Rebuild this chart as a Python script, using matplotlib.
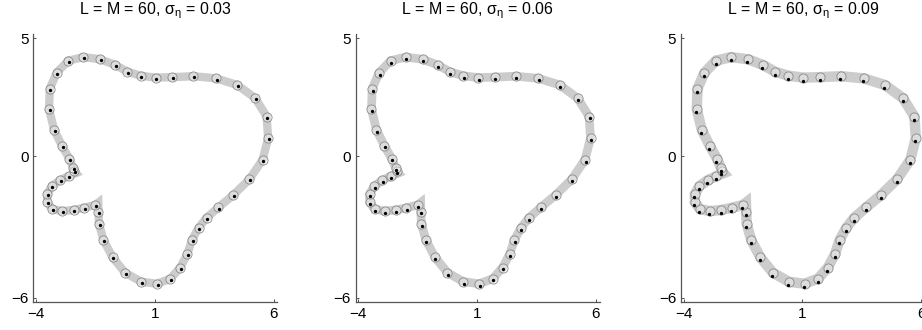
import matplotlib.pyplot as plt
import numpy as np

plt.rcParams["font.family"] = ["Liberation Sans", "DejaVu Sans"]
plt.rcParams["mathtext.fontset"] = "custom"
plt.rcParams["mathtext.rm"] = "Liberation Sans"
plt.rcParams["mathtext.it"] = "Liberation Sans"

# estimated contour points (circle centres), clockwise from the top left
PT_X = [-2.64, -2.01, -1.30, -0.67, -0.15, 0.41, 1.04, 1.74, 2.62, 3.57,
        4.47, 5.23, 5.71, 5.77, 5.54, 4.98, 4.31, 3.68, 3.18, 2.84,
        2.56, 2.37, 2.07, 1.66, 1.09, 0.42, -0.25, -0.78, -1.16, -1.35,
        -1.37, -1.51, -1.98, -2.42, -2.90, -3.32, -3.53, -3.53, -3.34, -2.99,
        -2.63, -2.39, -2.43, -2.60, -2.91, -3.24, -3.45, -3.42, -3.13]
PT_Y = [4.05, 4.20, 4.11, 3.87, 3.58, 3.41, 3.33, 3.35, 3.39, 3.30,
        3.02, 2.46, 1.68, 0.77, -0.15, -0.98, -1.64, -2.17, -2.61, -3.04,
        -3.56, -4.15, -4.72, -5.19, -5.41, -5.32, -4.94, -4.28, -3.55, -2.86,
        -2.35, -2.07, -2.19, -2.28, -2.33, -2.24, -1.95, -1.61, -1.27, -1.02,
        -0.85, -0.64, -0.50, -0.10, 0.45, 1.12, 1.99, 2.86, 3.54]

# true contour (grey band) with its two sharp corners
BAND_X = [-2.64, -2.01, -1.30, -0.67, -0.15, 0.41, 1.04, 1.74, 2.62, 3.57,
          4.47, 5.23, 5.71, 5.77, 5.54, 4.98, 4.31, 3.68, 3.18, 2.84,
          2.56, 2.37, 2.07, 1.66, 1.09, 0.42, -0.25, -0.78, -1.16, -1.35,
          -1.37, -1.38, -1.51, -1.98, -2.42, -2.90, -3.32, -3.53, -3.53, -3.34,
          -2.99, -2.63, -2.32, -2.39, -2.43, -2.60, -2.91, -3.24, -3.45, -3.42,
          -3.13, -2.64]
BAND_Y = [4.05, 4.20, 4.11, 3.87, 3.58, 3.41, 3.33, 3.35, 3.39, 3.30,
          3.02, 2.46, 1.68, 0.77, -0.15, -0.98, -1.64, -2.17, -2.61, -3.04,
          -3.56, -4.15, -4.72, -5.19, -5.41, -5.32, -4.94, -4.28, -3.55, -2.86,
          -2.35, -1.97, -2.07, -2.19, -2.28, -2.33, -2.24, -1.95, -1.61, -1.27,
          -1.02, -0.85, -0.72, -0.64, -0.50, -0.10, 0.45, 1.12, 1.99, 2.86,
          3.54, 4.05]

SIGMAS = ["0.03", "0.06", "0.09"]
# offset of the black sample points from the circles in each panel
DOT_DX = [0.03, 0.02, -0.02]
DOT_DY = [-0.05, -0.08, -0.13]
BAND_LW = [6.0, 6.3, 7.5]

LEFTS = [33.3, 355.7, 681.0]
W, H = 922, 330


def draw_panel(ax, i):
    ax.plot(BAND_X, BAND_Y, color="#cccccc", lw=BAND_LW[i],
            solid_joinstyle="miter", solid_capstyle="round", zorder=1)
    ax.plot(PT_X, PT_Y, ls="none", marker="o", ms=6.6,
            mfc=(1, 1, 1, 0.35), mec="#8a8a8a", mew=0.6, zorder=2)
    dx = np.array(PT_X) + DOT_DX[i]
    dy = np.array(PT_Y) + DOT_DY[i]
    ax.plot(dx, dy, ls="none", marker="o", ms=2.4, mfc="black",
            mec="none", zorder=3)

    ax.set_xlim(-4.114, 6.157)
    ax.set_ylim(-6.17, 5.18)
    ax.set_xticks([-4, 1, 6])
    ax.set_yticks([-6, 0, 5])
    ax.set_xticklabels(["\u22124", "1", "6"])
    ax.set_yticklabels(["\u22126", "0", "5"])
    ax.tick_params(direction="in", length=2.5, width=0.6, labelsize=11,
                   pad=3.5, colors="#333333", labelcolor="black")
    for s in ["top", "right"]:
        ax.spines[s].set_visible(False)
    for s in ["left", "bottom"]:
        ax.spines[s].set_color("#555555")
        ax.spines[s].set_linewidth(0.9)
    ax.text(0.5, 1.075,
            r"L = M = 60, $\mathregular{\sigma_{\eta}}$ = " + SIGMAS[i],
            transform=ax.transAxes, ha="center", va="baseline", fontsize=11.5)


fig = plt.figure(figsize=(W / 100, H / 100), dpi=100)
for i in range(3):
    ax = fig.add_axes([LEFTS[i] / W, (H - 301.7) / H, 244 / W, 267.7 / H])
    draw_panel(ax, i)

fig.savefig("out.png", dpi=100)
